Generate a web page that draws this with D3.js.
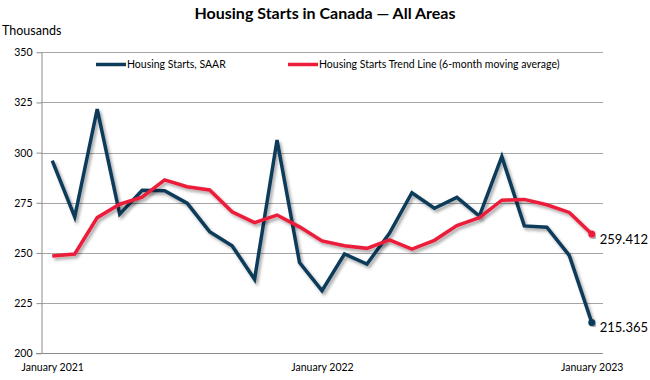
<!DOCTYPE html>
<html>
<head>
<meta charset="utf-8">
<script src="https://cdn.jsdelivr.net/npm/d3@7"></script>
<style>
  body { margin: 0; background: #fff; }
  svg { font-family: Lato, "Open Sans", sans-serif; }
</style>
</head>
<body>
<div id="chart"></div>
<script>
// data (thousands of units, SAAR)
var months = ["Jan 2021","Feb 2021","Mar 2021","Apr 2021","May 2021","Jun 2021","Jul 2021","Aug 2021","Sep 2021","Oct 2021","Nov 2021","Dec 2021",
              "Jan 2022","Feb 2022","Mar 2022","Apr 2022","May 2022","Jun 2022","Jul 2022","Aug 2022","Sep 2022","Oct 2022","Nov 2022","Dec 2022","Jan 2023"];
var starts = [296, 268, 321.7, 269.3, 281.2, 281, 274.8, 260.6, 253.6, 236.9, 306.3, 245.2,
              231.2, 249.5, 244.5, 259.8, 280, 272.3, 277.7, 268.4, 298, 263.5, 262.8, 248.8, 215.365];
var trend = [248.5, 249.5, 267.6, 274.3, 277.8, 286.4, 283, 281.4, 270.5, 265.1, 268.9, 263,
             256, 253.6, 252.3, 256.5, 251.9, 256.3, 263.7, 267.6, 276.3, 276.7, 274, 270.2, 259.412];
var yTicks = [200, 225, 250, 275, 300, 325, 350];
var xLabels = {"Jan 2021": "January 2021", "Jan 2022": "January 2022", "Jan 2023": "January 2023"};

var width = 650, height = 380;
var plotLeft = 41, plotRight = 603, plotTop = 52.3, plotBottom = 353.3;

var svg = d3.select("#chart").append("svg")
    .attr("width", width)
    .attr("height", height);

var defs = svg.append("defs");
var f = defs.append("filter").attr("id", "shadow")
    .attr("x", "-10%").attr("y", "-10%").attr("width", "120%").attr("height", "120%");
f.append("feDropShadow").attr("dx", 2).attr("dy", 2.5).attr("stdDeviation", 1.6)
    .attr("flood-color", "#000").attr("flood-opacity", 0.35);

var xScale = d3.scalePoint().domain(months).range([plotLeft, plotRight]).padding(0.5);
var yScale = d3.scaleLinear().domain([200, 350]).range([plotBottom, plotTop]);

// title
svg.append("text").attr("x", 325).attr("y", 19).attr("text-anchor", "middle")
    .attr("font-size", 16).attr("font-weight", "bold").attr("fill", "#000")
    .text("Housing Starts in Canada \u2014 All Areas");
svg.append("text").attr("x", 2).attr("y", 35).attr("font-size", 12.5).attr("fill", "#000")
    .text("Thousands");

// gridlines
svg.append("g").selectAll("line").data(yTicks.filter(function(d) { return d > 200; })).enter().append("line")
    .attr("x1", plotLeft).attr("x2", plotRight)
    .attr("y1", function(d) { return Math.round(yScale(d)) + 0.5; })
    .attr("y2", function(d) { return Math.round(yScale(d)) + 0.5; })
    .attr("stroke", "#a6a6a6").attr("stroke-width", 1);

// y axis
var yAxis = svg.append("g").attr("transform", "translate(" + (plotLeft + 0.5) + ",0)")
    .call(d3.axisLeft(yScale).tickValues(yTicks).tickSize(5).tickPadding(4).tickSizeOuter(0));
yAxis.select(".domain").attr("stroke", "#8c8c8c");
yAxis.selectAll(".tick line").attr("stroke", "#8c8c8c");
yAxis.selectAll(".tick text").attr("font-size", 10.5).attr("fill", "#000").attr("font-family", "Lato, sans-serif");

// x axis
var xAxis = svg.append("g").attr("transform", "translate(0," + (Math.round(plotBottom) + 0.5) + ")")
    .call(d3.axisBottom(xScale).tickValues(Object.keys(xLabels)).tickSize(0).tickPadding(10)
        .tickFormat(function(d) { return xLabels[d]; }));
xAxis.select(".domain").attr("stroke", "#8c8c8c").attr("d", "M" + (plotLeft - 5) + ",0H" + plotRight);
xAxis.selectAll(".tick text").attr("font-size", 10.5).attr("fill", "#000").attr("font-family", "Lato, sans-serif");

// lines
var line = d3.line()
    .x(function(d, i) { return xScale(months[i]); })
    .y(function(d) { return yScale(d); });

var blue = "#0f3b5a", red = "#ec1c3b";

svg.append("path").datum(starts).attr("d", line)
    .attr("fill", "none").attr("stroke", blue).attr("stroke-width", 3.5)
    .attr("stroke-linejoin", "miter").attr("filter", "url(#shadow)");
svg.append("path").datum(trend).attr("d", line)
    .attr("fill", "none").attr("stroke", red).attr("stroke-width", 3.5)
    .attr("stroke-linejoin", "miter").attr("filter", "url(#shadow)");

// end markers + labels
var last = months.length - 1;
[[starts, blue], [trend, red]].forEach(function(s) {
    var v = s[0][last];
    svg.append("circle").attr("cx", xScale(months[last])).attr("cy", yScale(v)).attr("r", 3.5)
        .attr("fill", s[1]).attr("filter", "url(#shadow)");
    svg.append("text").attr("x", xScale(months[last]) + 8).attr("y", yScale(v) + 10)
        .attr("font-size", 13).attr("fill", "#000").text(v.toFixed(3));
});

// legend
var legend = [["Housing Starts, SAAR", blue, 96], ["Housing Starts Trend Line (6-month moving average)", red, 288]];
legend.forEach(function(l) {
    svg.append("line").attr("x1", l[2]).attr("x2", l[2] + 30).attr("y1", 64.5).attr("y2", 64.5)
        .attr("stroke", l[1]).attr("stroke-width", 3.5);
    svg.append("text").attr("x", l[2] + 31).attr("y", 68).attr("font-size", 10.5).attr("fill", "#000").text(l[0]);
});
</script>
</body>
</html>
